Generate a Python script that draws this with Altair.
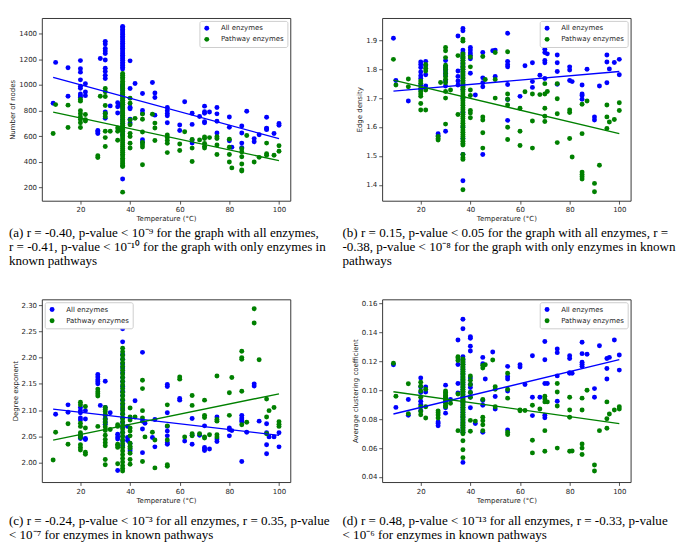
import altair as alt
import pandas as pd

SERIES = ["All enzymes", "Pathway enzymes"]
COLORS = ["#0000ff", "#008000"]
X_TICKS = [20, 40, 60, 80, 100]
LINE_X = [9, 100]

# ---------------- (a) Number of nodes ----------------
a_all = {
    9: [857], 10: [1176], 15: [1135, 912],
    20: [1190, 1127, 1100, 1040, 990, 975, 930, 915, 905],
    22: [1010, 945, 917], 27: [645, 635, 622], 28: [1207],
    30: [1340, 1320, 1285, 1265, 1245, 1195, 1130, 1105, 1075, 1050, 790, 775, 740],
    32: [837], 35: [862, 830, 782], 36: [845],
    37: [1457, 1446, 1433, 1420, 1405, 1393, 1378, 1366, 1352, 1338, 1326, 1312, 1298,
         1286, 1272, 1258, 1244, 1232, 1218, 1204, 1192, 1178, 1164, 1152, 1138, 1125,
         1000, 985, 960, 930, 915, 880, 850, 820, 790, 760, 730, 700, 670, 640, 610, 267],
    40: [1188, 972, 827, 815, 733, 703], 42: [1011],
    45: [934, 802, 778, 573, 553], 49: [1019], 50: [937, 902, 765],
    55: [825, 800, 778, 760, 705], 60: [688, 645], 62: [870],
    65: [780, 693, 572, 547], 68: [755], 70: [835, 792, 780, 713, 705], 72: [790],
    75: [825, 775, 718, 626], 80: [750, 671, 565], 81: [515],
    85: [681, 626, 547, 512], 87: [795], 90: [582, 557], 92: [612],
    95: [748, 664, 659, 652], 98: [622], 100: [700, 686],
}
a_path = {
    9: [622], 10: [847], 15: [843, 669],
    20: [887, 874, 800, 776, 750, 731, 706, 669],
    22: [770, 730, 720], 27: [449, 434], 28: [912],
    30: [972, 947, 910, 840, 778, 753, 640, 590, 521],
    32: [639], 35: [665, 640, 570], 36: [650],
    37: [1090, 1076, 1061, 1047, 1030, 1016, 1001, 985, 972, 955, 941, 926, 910, 896,
         880, 866, 850, 836, 821, 805, 790, 776, 760, 746, 730, 716, 700, 686, 670, 655,
         641, 625, 611, 595, 580, 566, 550, 535, 521, 505, 490, 476, 460, 446, 430, 416,
         400, 386, 372, 365, 165],
    40: [897, 857, 728, 690, 623, 598, 546, 509], 42: [740],
    45: [773, 733, 633, 553, 534, 516, 379], 49: [772], 50: [703, 665, 567],
    55: [610, 590, 567, 545, 473], 60: [540, 490], 62: [635],
    65: [575, 508, 404], 68: [572], 70: [594, 583, 545, 523, 508], 72: [590],
    75: [597, 583, 532, 458], 80: [578, 515, 458, 400], 81: [354],
    85: [503, 478, 441, 384, 337, 329], 87: [607], 90: [400], 92: [436],
    95: [547, 465, 453], 98: [453], 100: [527, 483],
}
a_line_all = [1060, 582]
a_line_path = [788, 411]

# ---------------- (b) Edge density ----------------
b_all = {
    9: [1.907], 10: [1.761], 15: [1.690],
    20: [1.825, 1.816, 1.806, 1.790, 1.777, 1.768, 1.744, 1.729],
    22: [1.827, 1.812, 1.781, 1.742], 27: [1.577, 1.570],
    30: [1.830, 1.808, 1.800, 1.790, 1.780, 1.759, 1.742, 1.585],
    35: [1.915, 1.794, 1.775, 1.759, 1.745],
    37: [1.941, 1.933, 1.866, 1.858, 1.850, 1.840, 1.830, 1.820, 1.810, 1.800, 1.790,
         1.780, 1.770, 1.760, 1.750, 1.740, 1.730, 1.700, 1.650, 1.600, 1.560, 1.505, 1.414],
    40: [1.875, 1.866, 1.856, 1.848, 1.836, 1.786], 42: [1.711],
    45: [1.858, 1.770, 1.753, 1.739, 1.505], 49: [1.864], 50: [1.866, 1.775],
    55: [1.924, 1.827, 1.816, 1.808, 1.747, 1.695, 1.623], 60: [1.706], 62: [1.812],
    65: [1.822, 1.757, 1.737], 68: [1.779], 70: [1.869, 1.858, 1.830, 1.822, 1.768],
    71: [1.853], 75: [1.849, 1.822, 1.792, 1.748], 80: [1.808, 1.797, 1.761],
    81: [1.757], 85: [1.889, 1.745, 1.714, 1.709, 1.696], 87: [1.800],
    90: [1.635, 1.624], 92: [1.742], 95: [1.849, 1.825, 1.753], 96: [1.801],
    98: [1.823], 100: [1.834, 1.781],
}
b_path = {
    9: [1.834], 10: [1.745], 15: [1.766, 1.739],
    20: [1.759, 1.751, 1.734, 1.723, 1.714, 1.706, 1.681, 1.659],
    22: [1.816, 1.803, 1.794, 1.728, 1.659], 27: [1.567, 1.560, 1.555], 28: [1.754],
    30: [1.875, 1.864, 1.840, 1.814, 1.805, 1.797, 1.786, 1.775, 1.765, 1.753, 1.723,
         1.700, 1.610],
    32: [1.728], 35: [1.847, 1.643],
    37: [1.904, 1.897, 1.853, 1.845, 1.838, 1.830, 1.822, 1.815, 1.807, 1.799, 1.791,
         1.784, 1.776, 1.768, 1.760, 1.753, 1.745, 1.737, 1.729, 1.722, 1.714, 1.706,
         1.698, 1.691, 1.683, 1.675, 1.667, 1.660, 1.652, 1.644, 1.636, 1.629, 1.621,
         1.613, 1.605, 1.598, 1.590, 1.582, 1.574, 1.567, 1.559, 1.551, 1.543, 1.538,
         1.505, 1.494, 1.488, 1.383],
    40: [1.842, 1.808, 1.728, 1.709, 1.657, 1.648, 1.632],
    45: [1.844, 1.635, 1.624, 1.580, 1.527], 46: [1.764], 50: [1.858, 1.764, 1.700],
    55: [1.860, 1.714, 1.696, 1.676, 1.599, 1.557], 60: [1.665, 1.585, 1.536],
    62: [1.722], 65: [1.714, 1.621, 1.527], 68: [1.712],
    70: [1.750, 1.714, 1.665, 1.637, 1.619], 71: [1.723],
    75: [1.750, 1.698, 1.646, 1.546], 80: [1.659, 1.650, 1.560], 81: [1.496],
    85: [1.679, 1.577, 1.444, 1.436, 1.428, 1.420], 87: [1.690], 90: [1.405, 1.376],
    92: [1.468], 95: [1.676, 1.635, 1.595], 96: [1.617], 98: [1.626], 100: [1.684, 1.657],
}
b_line_all = [1.724, 1.792]
b_line_path = [1.762, 1.577]

# ---------------- (c) Degree exponent ----------------
c_all = {
    10: [2.092], 15: [2.110, 2.096],
    20: [2.105, 2.099, 2.095, 2.085, 2.081, 2.052, 2.049, 2.046],
    22: [2.099, 2.083, 2.046, 2.044], 27: [2.168, 2.163, 2.158, 2.154, 2.150],
    28: [2.109], 30: [2.155, 2.105, 2.090, 2.084, 2.078, 2.073], 32: [2.095],
    35: [2.054, 2.049, 2.045, 1.985],
    37: [2.255, 2.230, 2.206, 2.197, 2.188, 2.180, 2.171, 2.162, 2.154, 2.145, 2.136,
         2.128, 2.119, 2.110, 2.102, 2.093, 2.084, 2.076, 2.067, 2.058, 2.050, 2.041, 2.032],
    39: [2.069, 2.048, 2.042], 40: [2.036, 2.026, 2.022], 42: [2.118],
    45: [2.210, 2.079, 2.064, 2.019], 46: [2.075], 49: [2.048], 50: [2.082, 2.030],
    55: [2.149, 2.145, 2.095, 2.069, 2.060, 2.051, 2.038, 2.035], 60: [2.122, 2.119],
    62: [2.041], 65: [2.084, 2.052, 2.035], 68: [2.052],
    70: [2.070, 2.029, 2.026, 2.023], 72: [2.026], 75: [2.087, 2.045, 2.040],
    80: [2.066, 2.063, 2.051], 81: [2.061], 85: [2.090, 2.085, 2.081, 2.078, 2.002],
    87: [2.058], 90: [2.150, 2.146], 92: [2.079], 95: [2.074, 2.057, 2.034, 2.017],
    96: [2.049], 98: [2.049], 100: [2.057, 2.030],
}
c_path = {
    9: [2.005], 10: [2.058], 15: [2.074, 2.035],
    20: [2.115, 2.110, 2.075, 2.069, 2.057, 2.052, 2.048, 2.034, 2.029, 2.024],
    22: [2.107, 2.066, 2.020, 2.016], 27: [2.140, 2.135, 2.131, 2.127, 2.069],
    30: [2.105, 2.101, 2.097, 2.091, 2.082, 2.076, 2.068, 2.061, 2.052, 2.044, 2.038,
         2.032, 2.006, 1.996],
    32: [2.063], 35: [2.072, 2.069, 2.035, 2.032, 2.029, 1.998],
    37: [2.218, 2.211, 2.204, 2.197, 2.190, 2.183, 2.176, 2.169, 2.162, 2.155, 2.148,
         2.141, 2.134, 2.127, 2.120, 2.113, 2.106, 2.099, 2.092, 2.085, 2.078, 2.071,
         2.064, 2.057, 2.050, 2.043, 2.036, 2.029, 2.022, 2.015, 2.008, 2.001, 1.994,
         1.989, 1.984],
    40: [2.104, 2.087, 2.081, 2.066, 2.060, 2.051, 2.037, 2.031, 2.028, 2.018, 2.006, 1.997],
    42: [2.087], 45: [2.157, 2.141, 2.099, 2.085, 2.002], 46: [2.049], 49: [2.058],
    50: [2.043, 1.990], 55: [2.110, 2.070, 2.043, 1.996, 1.993], 60: [2.163, 2.159],
    62: [2.049], 65: [2.128, 2.109, 2.055, 2.051], 68: [2.055],
    70: [2.119, 2.090, 2.086, 2.049, 2.047], 72: [2.053],
    75: [2.165, 2.082, 2.079, 2.053, 2.049], 80: [2.133, 2.090], 81: [2.162],
    85: [2.212, 2.200, 2.197, 2.136, 2.072], 87: [2.077], 90: [2.293, 2.266],
    92: [2.196], 95: [2.121, 2.087, 2.055], 96: [2.099], 98: [2.105],
    100: [2.078, 2.073, 2.069],
}
c_line_all = [2.102, 2.052]
c_line_path = [2.043, 2.131]

# ---------------- (d) Average clustering coefficient ----------------
d_all = {
    9: [0.1177], 10: [0.0882], 15: [0.0937, 0.0827],
    20: [0.1085, 0.1023, 0.0985, 0.0924, 0.0902, 0.0860], 22: [0.1023, 0.0989],
    27: [0.0781, 0.0770, 0.0754], 30: [0.1036, 0.0950, 0.0920, 0.0880, 0.0842],
    32: [0.0937], 35: [0.1349, 0.1179, 0.1047, 0.0981],
    37: [0.1492, 0.1426, 0.1232, 0.1215, 0.1198, 0.1180, 0.1162, 0.1145, 0.1128, 0.1110,
         0.1093, 0.1075, 0.1058, 0.1040, 0.1023, 0.1005, 0.0988, 0.0970, 0.0953, 0.0935,
         0.0918, 0.0900, 0.0883, 0.0865, 0.0848, 0.0830, 0.0813, 0.0795, 0.0778, 0.0760,
         0.0743, 0.0725, 0.0710, 0.0501],
    40: [0.1371, 0.1360, 0.1305, 0.1272, 0.1085, 0.1040, 0.1020, 0.0985, 0.0952, 0.0880],
    42: [0.0770], 45: [0.1228, 0.1184, 0.0930, 0.0897, 0.0710], 46: [0.1078],
    49: [0.1265], 50: [0.0957, 0.0871], 55: [0.1166, 0.1096, 0.1078, 0.0996, 0.0726],
    60: [0.1177, 0.1162], 62: [0.1040], 65: [0.1239, 0.0952, 0.0825], 68: [0.0952],
    70: [0.1338, 0.1212, 0.1047, 0.0827, 0.0810], 71: [0.1047],
    75: [0.1287, 0.1261, 0.1100, 0.0924], 80: [0.1239, 0.1221, 0.1122, 0.1118],
    81: [0.1118], 85: [0.1333, 0.1254, 0.1195, 0.1180, 0.1166], 87: [0.1250],
    90: [0.1012, 0.0952], 92: [0.1309], 95: [0.1221, 0.1151, 0.1078], 96: [0.1228],
    98: [0.1349], 100: [0.1245, 0.1140],
}
d_path = {
    9: [0.1188], 10: [0.0959], 15: [0.1045, 0.0838],
    20: [0.1056, 0.1029, 0.0996, 0.0952, 0.0886, 0.0853, 0.0831],
    22: [0.1007, 0.0886, 0.0809], 27: [0.0858, 0.0845, 0.0830, 0.0809],
    30: [0.0996, 0.0985, 0.0975, 0.0965, 0.0955, 0.0945, 0.0935, 0.0925, 0.0910,
         0.0896, 0.0886],
    32: [0.0910], 35: [0.1232, 0.1224, 0.1206, 0.0974, 0.0721],
    37: [0.1217, 0.1205, 0.1192, 0.1180, 0.1168, 0.1155, 0.1143, 0.1130, 0.1118, 0.1106,
         0.1093, 0.1081, 0.1068, 0.1056, 0.1044, 0.1031, 0.1019, 0.1006, 0.0994, 0.0982,
         0.0969, 0.0957, 0.0944, 0.0932, 0.0920, 0.0907, 0.0895, 0.0882, 0.0870, 0.0858,
         0.0845, 0.0833, 0.0820, 0.0808, 0.0796, 0.0783, 0.0771, 0.0758, 0.0746, 0.0734,
         0.0721, 0.0709, 0.0699, 0.0651, 0.0589, 0.0534],
    40: [0.1100, 0.1069, 0.1040, 0.0985, 0.0952, 0.0792, 0.0717], 42: [0.0787],
    45: [0.1173, 0.1155, 0.0937, 0.0814, 0.0790, 0.0761, 0.0721], 46: [0.1177],
    49: [0.1210], 50: [0.1025, 0.1007, 0.0886], 55: [0.1118, 0.1007, 0.0946, 0.0710, 0.0694],
    60: [0.0864, 0.0858], 62: [0.0860], 65: [0.0897, 0.0655, 0.0567], 68: [0.0871],
    70: [0.0959, 0.0940, 0.0920, 0.0721, 0.0578], 71: [0.0920],
    75: [0.1047, 0.0989, 0.0891, 0.0600], 80: [0.0952, 0.0864, 0.0814, 0.0578],
    81: [0.0580], 85: [0.0946, 0.0864, 0.0629, 0.0600, 0.0556], 87: [0.1001],
    90: [0.0483, 0.0441], 92: [0.0721], 95: [0.0920, 0.0803, 0.0737], 96: [0.0836],
    98: [0.0864], 100: [0.0886, 0.0871],
}
d_line_all = [0.0836, 0.1212]
d_line_path = [0.0990, 0.0770]

CAPTIONS = {
    "a": ["(a) r = -0.40, p-value < 10\u207b\u2079 for the graph with all enzymes,",
          "r = -0.41, p-value < 10\u207b\u00b9\u2070 for the graph with only enzymes in",
          "known pathways"],
    "b": ["(b) r = 0.15, p-value < 0.05 for the graph with all enzymes,  r =",
          "-0.38, p-value < 10\u207b\u2078 for the graph with only enzymes in known",
          "pathways"],
    "c": ["(c) r = -0.24, p-value < 10\u207b\u00b3 for all enzymes, r = 0.35, p-value",
          "< 10\u207b\u2077 for enzymes in known pathways"],
    "d": ["(d) r = 0.48, p-value < 10\u207b\u00b9\u00b3 for all enzymes, r = -0.33, p-value",
          "< 10\u207b\u2076 for enzymes in known pathways"],
}

W, H = 257, 189
SMALL = 7.2


def to_frame(all_d, path_d):
    rows = []
    for name, d in ((SERIES[0], all_d), (SERIES[1], path_d)):
        for t, vals in d.items():
            for v in vals:
                rows.append({"t": t, "v": v, "s": name})
    return pd.DataFrame(rows)


def panel(all_d, path_d, l_all, l_path, ytitle, ydomain, yticks, yfmt, legend_orient,
          caption, cap_dx, cap_offset):
    df = to_frame(all_d, path_d)
    xenc = alt.X("t:Q", scale=alt.Scale(domain=[4.45, 104.55], nice=False, zero=False),
                 axis=alt.Axis(values=X_TICKS, title="Temperature (°C)"))
    yenc = alt.Y("v:Q", scale=alt.Scale(domain=ydomain, nice=False, zero=False),
                 axis=alt.Axis(values=yticks, format=yfmt, title=ytitle))
    pts = alt.Chart(df).mark_circle(size=26, opacity=1).encode(
        x=xenc, y=yenc,
        color=alt.Color("s:N", scale=alt.Scale(domain=SERIES, range=COLORS),
                        legend=alt.Legend(title=None, orient=legend_orient)),
        order=alt.Order("s:N", sort="ascending"),
    )
    layers = [pts]
    for vals, col in ((l_all, COLORS[0]), (l_path, COLORS[1])):
        ldf = pd.DataFrame({"t": LINE_X, "v": vals})
        layers.append(alt.Chart(ldf).mark_line(color=col, strokeWidth=1.4).encode(
            x=xenc, y=yenc))
    return alt.layer(*layers).properties(
        width=W, height=H,
        title=alt.TitleParams(text=caption, orient="bottom", anchor="start", frame="group",
                              dx=cap_dx, offset=cap_offset, font="Liberation Serif",
                              fontSize=13.5, fontWeight="normal", color="black",
                              lineHeight=14.3, baseline="top"),
    )


pa = panel(a_all, a_path, a_line_all, a_line_path, "Number of nodes", [98, 1522],
           [200, 400, 600, 800, 1000, 1200, 1400], "d", "top-right", CAPTIONS["a"], -34, 5)
pb = panel(b_all, b_path, b_line_all, b_line_path, "Edge density", [1.345, 1.977],
           [1.4, 1.5, 1.6, 1.7, 1.8, 1.9], ".1f", "top-right", CAPTIONS["b"], -41, 5)
pc = panel(c_all, c_path, c_line_all, c_line_path, "Degree exponent", [1.963, 2.311],
           [2.00, 2.05, 2.10, 2.15, 2.20, 2.25, 2.30], ".2f", "top-left", CAPTIONS["c"],
           -34, 12)
pd_ = panel(d_all, d_path, d_line_all, d_line_path, "Average clustering coefficient",
            [0.0365, 0.163], [0.04, 0.06, 0.08, 0.10, 0.12, 0.14, 0.16], ".2f",
            "top-right", CAPTIONS["d"], -41, 12)

chart = alt.concat(pa, pb, pc, pd_, columns=2, spacing={"row": 102, "column": 95},
                   bounds="flush").properties(padding=0).configure_view(
    stroke="#333333", strokeWidth=1
).configure_axis(
    labelFont="DejaVu Sans", labelFontSize=SMALL, labelColor="#262626",
    titleFont="DejaVu Sans", titleFontSize=SMALL, titleFontWeight="normal",
    titleColor="#262626", tickColor="#262626", tickSize=3.5, tickWidth=0.8,
    domain=False, grid=False, labelPadding=2, titlePadding=2, labelOverlap=False,
).configure_legend(
    labelFont="DejaVu Sans", labelFontSize=SMALL, labelColor="#262626",
    symbolType="circle", symbolSize=26, fillColor="white", strokeColor="#cccccc",
    cornerRadius=2, padding=4, offset=3, rowPadding=3.5, labelOffset=11,
)

chart.save("out.html", embed_options={"renderer": "svg", "actions": False})
